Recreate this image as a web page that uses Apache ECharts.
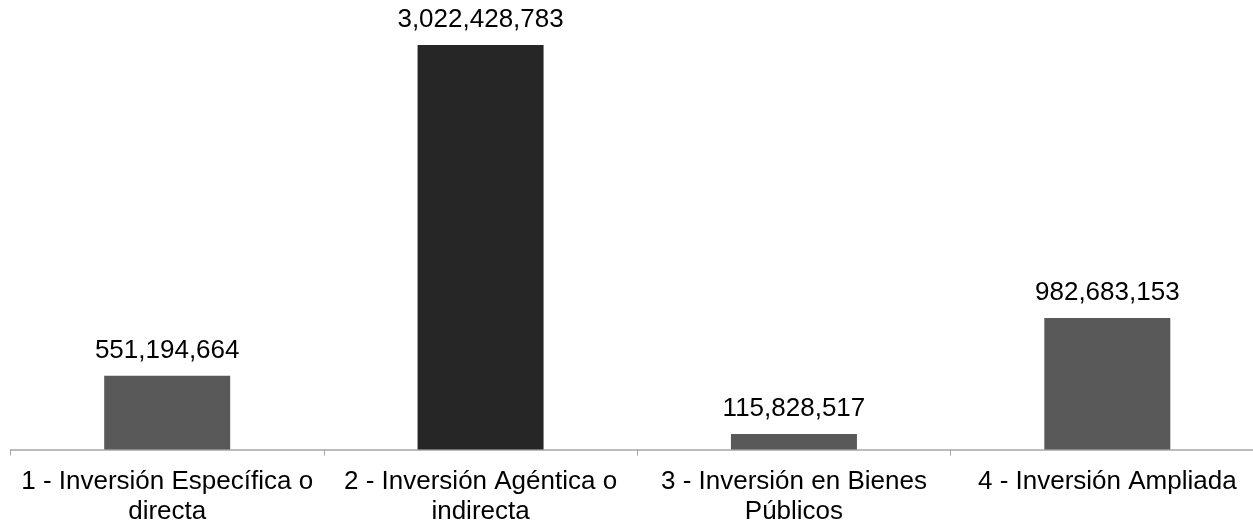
<!DOCTYPE html>
<html>
<head>
<meta charset="utf-8">
<script src="https://cdn.jsdelivr.net/npm/echarts@6/dist/echarts.min.js"></script>
<style>html,body{margin:0;padding:0;background:#fff}#c{width:1253px;height:524px}</style>
</head>
<body>
<div id="c"></div>
<script>
const categories = [
  "1 - Inversión Específica o\ndirecta",
  "2 - Inversión Agéntica o\nindirecta",
  "3 - Inversión en Bienes\nPúblicos",
  "4 - Inversión Ampliada"
];
const values = [551194664, 3022428783, 115828517, 982683153];
const barColors = ["#595959", "#262626", "#595959", "#595959"];

const chart = echarts.init(document.getElementById('c'), null, {renderer: 'canvas'});
chart.setOption({
  animation: false,
  backgroundColor: '#ffffff',
  grid: {left: 10.5, right: -11, top: 21.2, bottom: 74.5, outerBoundsMode: 'none', containLabel: false},
  xAxis: {
    type: 'category',
    data: categories,
    axisLine: {show: true, lineStyle: {color: '#a6a6a6', width: 1.5}},
    axisTick: {show: true, length: 6, lineStyle: {color: '#a6a6a6', width: 1}},
    axisLabel: {
      interval: 0,
      color: '#000000',
      fontFamily: 'Liberation Sans, Arial, sans-serif',
      fontSize: 26,
      lineHeight: 30,
      margin: 17,
      align: 'center'
    }
  },
  yAxis: {
    type: 'value',
    min: 0,
    max: 3200000000,
    show: false,
    splitLine: {show: false}
  },
  series: [{
    type: 'bar',
    barWidth: 126,
    data: values.map((v, i) => ({value: v, itemStyle: {color: barColors[i]}})),
    label: {
      show: true,
      position: 'top',
      distance: 12,
      color: '#000000',
      fontFamily: 'Liberation Sans, Arial, sans-serif',
      fontSize: 26,
      formatter: p => p.value.toLocaleString('en-US')
    }
  }]
});
</script>
</body>
</html>
